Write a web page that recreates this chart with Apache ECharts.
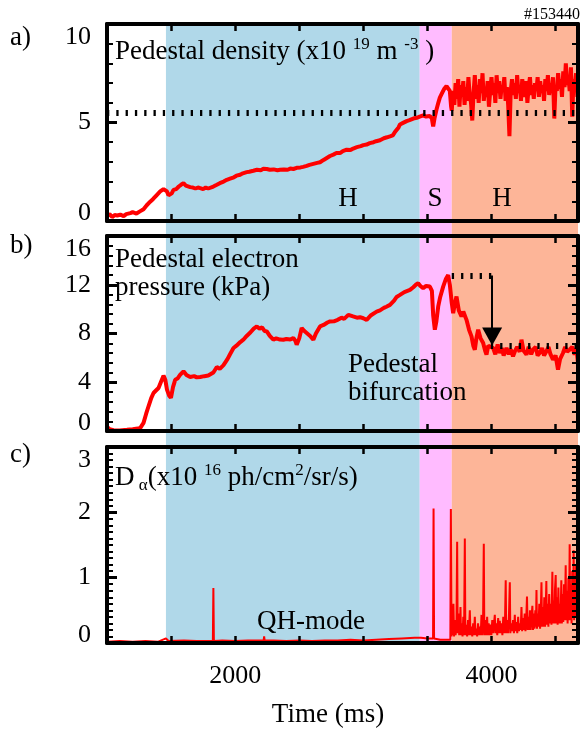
<!DOCTYPE html>
<html>
<head>
<meta charset="utf-8">
<script src="https://cdn.jsdelivr.net/npm/echarts@6/dist/echarts.min.js"></script>
<style>
  html, body { margin: 0; padding: 0; background: #fff; }
  #chart { width: 582px; height: 736px; }
</style>
</head>
<body>
<div id="chart"></div>
<script>
// time axis (ms)
const timeRange = [1000, 4675];
const timeStep = 500;
const timeLabels = [2000, 4000];

// phases: H, S, H
const phaseBands = [[1460, 3440], [3440, 3690], [3690, 4675]];
const phaseColors = ['#b0d8e9', '#ffbbff', '#fdb598'];

// a) pedestal density (x10^19 m^-3)
const densityData = [
  [1000, 0.25], [1020, 0.35], [1040, 0.2], [1060, 0.3], [1080, 0.28], [1104, 0.32], [1130, 0.25], [1150, 0.35],
  [1182, 0.4], [1200, 0.45], [1230, 0.38], [1260, 0.5], [1285, 0.6], [1310, 0.8], [1337, 0.98], [1360, 1.12],
  [1390, 1.33], [1415, 1.5], [1441, 1.62], [1455, 1.58], [1468, 1.5], [1480, 1.3], [1493, 1.22], [1505, 1.4],
  [1519, 1.58], [1540, 1.62], [1560, 1.75], [1580, 1.85], [1597, 1.92], [1615, 1.8], [1630, 1.78], [1649, 1.72],
  [1670, 1.7], [1690, 1.65], [1710, 1.7], [1727, 1.67], [1750, 1.62], [1770, 1.7], [1790, 1.65], [1805, 1.67],
  [1830, 1.75], [1857, 1.84], [1880, 1.92], [1910, 2.0], [1935, 2.09], [1960, 2.15], [1990, 2.22], [2010, 2.3],
  [2039, 2.35], [2060, 2.42], [2090, 2.48], [2110, 2.5], [2142, 2.55], [2170, 2.6], [2200, 2.58], [2220, 2.65],
  [2247, 2.64], [2270, 2.6], [2300, 2.62], [2330, 2.58], [2350, 2.6], [2380, 2.62], [2410, 2.6], [2430, 2.66],
  [2454, 2.64], [2480, 2.7], [2510, 2.72], [2530, 2.75], [2558, 2.8], [2580, 2.85], [2610, 2.9], [2640, 2.95],
  [2662, 2.98], [2690, 3.1], [2715, 3.2], [2740, 3.3], [2766, 3.37], [2790, 3.45], [2818, 3.45], [2840, 3.55],
  [2870, 3.62], [2900, 3.6], [2921, 3.68], [2950, 3.75], [2980, 3.8], [3000, 3.85], [3026, 3.88], [3050, 3.95],
  [3080, 4.0], [3100, 4.05], [3130, 4.1], [3160, 4.2], [3185, 4.25], [3208, 4.3], [3230, 4.35], [3245, 4.5],
  [3260, 4.56], [3275, 4.75], [3286, 4.9], [3310, 4.98], [3338, 5.07], [3360, 5.12], [3390, 5.2], [3416, 5.24],
  [3440, 5.3], [3467, 5.36], [3490, 5.3], [3519, 5.33], [3535, 5.2], [3545, 4.8], [3555, 5.2], [3571, 5.66],
  [3585, 6.0], [3597, 6.26], [3615, 6.5], [3630, 6.7], [3649, 6.85], [3662, 6.95], [3675, 6.6], [3685, 5.8],
  [3690, 5.6], [3700, 6.6], [3710, 5.9], [3720, 7.0], [3730, 6.2], [3740, 7.2], [3750, 5.8], [3760, 6.9],
  [3770, 6.3], [3780, 7.1], [3790, 5.9], [3800, 6.8], [3810, 6.1], [3820, 7.3], [3830, 6.4], [3840, 6.0],
  [3850, 5.1], [3860, 6.5], [3870, 7.4], [3880, 6.2], [3890, 6.9], [3900, 6.0], [3910, 7.2], [3920, 6.5],
  [3930, 7.5], [3940, 6.1], [3950, 6.8], [3960, 6.3], [3970, 7.1], [3980, 5.8], [3990, 6.6], [4000, 7.3],
  [4010, 6.4], [4020, 7.0], [4030, 6.0], [4040, 7.4], [4050, 6.5], [4060, 7.1], [4070, 6.2], [4080, 6.9],
  [4090, 6.6], [4100, 7.3], [4110, 6.1], [4120, 6.8], [4130, 5.9], [4140, 4.3], [4150, 6.6], [4160, 7.2],
  [4170, 6.4], [4180, 7.0], [4190, 6.2], [4200, 7.4], [4210, 6.5], [4220, 6.9], [4230, 6.1], [4240, 7.2],
  [4250, 6.7], [4260, 6.3], [4270, 7.1], [4280, 6.0], [4290, 6.8], [4300, 7.3], [4310, 6.4], [4320, 6.9],
  [4330, 6.2], [4340, 7.0], [4350, 6.6], [4360, 7.3], [4370, 6.3], [4380, 7.1], [4390, 6.5], [4400, 6.9],
  [4410, 6.1], [4420, 7.2], [4430, 6.6], [4440, 7.4], [4450, 6.4], [4460, 7.0], [4470, 6.5], [4480, 7.3],
  [4490, 5.2], [4500, 6.9], [4510, 6.6], [4520, 7.5], [4530, 6.7], [4540, 7.2], [4550, 6.3], [4560, 7.6],
  [4570, 6.8], [4580, 8.0], [4590, 6.9], [4600, 7.4], [4610, 6.6], [4620, 7.8], [4630, 5.3], [4640, 7.2],
  [4650, 6.8], [4660, 7.5], [4670, 6.3]
];
const densityRef = 5.5;

// b) pedestal electron pressure (kPa)
const pressureData = [
  [1000, 0.35], [1020, 0.15], [1051, 0.07], [1100, 0.05], [1156, 0.1], [1200, 0.15], [1240, 0.2], [1260, 0.26],
  [1285, 0.67], [1305, 1.4], [1324, 2.03], [1345, 2.7], [1363, 3.12], [1380, 3.3], [1402, 3.53], [1420, 4.0],
  [1441, 4.54], [1455, 4.2], [1468, 3.4], [1485, 2.9], [1499, 2.72], [1515, 3.6], [1532, 4.2], [1550, 4.3],
  [1570, 4.6], [1597, 4.9], [1620, 4.6], [1649, 4.43], [1680, 4.5], [1700, 4.4], [1727, 4.43], [1760, 4.5],
  [1790, 4.55], [1805, 4.62], [1830, 4.8], [1857, 5.25], [1880, 5.1], [1909, 5.4], [1940, 5.9], [1960, 6.3],
  [1987, 6.81], [2010, 7.0], [2040, 7.3], [2064, 7.49], [2090, 7.8], [2120, 8.1], [2145, 8.4], [2169, 8.58],
  [2190, 8.4], [2210, 8.5], [2230, 8.2], [2247, 8.17], [2270, 7.8], [2298, 7.49], [2320, 7.6], [2350, 7.5],
  [2376, 7.49], [2400, 7.55], [2430, 7.5], [2454, 7.63], [2470, 7.4], [2480, 7.08], [2500, 7.6], [2519, 8.45],
  [2540, 8.2], [2558, 8.04], [2585, 7.8], [2610, 7.49], [2630, 8.0], [2662, 8.58], [2690, 8.7], [2720, 8.9],
  [2740, 8.99], [2770, 9.0], [2800, 9.12], [2830, 9.3], [2850, 9.2], [2883, 9.53], [2896, 9.45], [2920, 9.4],
  [2950, 9.3], [2974, 9.34], [3000, 9.25], [3026, 9.12], [3060, 9.5], [3104, 9.8], [3130, 9.9], [3160, 10.1],
  [3180, 10.2], [3208, 10.35], [3240, 10.7], [3260, 11.0], [3286, 11.17], [3320, 11.4], [3364, 11.58], [3390, 11.8],
  [3410, 12.0], [3428, 12.13], [3445, 11.9], [3467, 11.72], [3490, 11.9], [3519, 11.85], [3535, 11.5], [3545, 9.5],
  [3558, 8.31], [3570, 9.0], [3584, 10.2], [3600, 11.0], [3623, 11.85], [3645, 12.5], [3662, 12.8], [3675, 12.0],
  [3690, 10.5], [3701, 9.67], [3715, 10.5], [3727, 11.03], [3745, 9.9], [3766, 9.39], [3780, 9.8], [3805, 9.12],
  [3825, 8.3], [3844, 7.76], [3858, 7.0], [3870, 6.67], [3882, 7.6], [3896, 8.31], [3915, 7.6], [3935, 7.22],
  [3950, 6.6], [3961, 6.26], [3975, 7.0], [3990, 6.9], [4013, 6.81], [4030, 6.3], [4048, 7.1], [4065, 6.4],
  [4080, 6.8], [4095, 6.2], [4117, 6.81], [4135, 6.3], [4150, 6.7], [4168, 6.12], [4185, 6.6], [4200, 6.9],
  [4220, 6.5], [4234, 7.49], [4250, 6.6], [4273, 6.26], [4290, 6.9], [4310, 6.3], [4324, 6.67], [4345, 6.9],
  [4360, 6.2], [4376, 6.4], [4395, 6.8], [4410, 6.2], [4428, 6.53], [4445, 6.9], [4460, 6.3], [4480, 5.85],
  [4500, 6.2], [4519, 5.03], [4535, 5.9], [4558, 6.4], [4575, 6.9], [4590, 6.5], [4610, 6.67], [4630, 6.9],
  [4649, 6.26], [4662, 6.8], [4675, 5.58]
];
const bifurcationHigh = 12.75;
const bifurcationLow = 7.0;
const bifurcationTimes = [3690, 4040];
const arrowTime = 4005;
const arrowEnd = 7.75;
const lowLineStart = 3995;

// c) D-alpha (x10^16 ph/cm^2/sr/s)
const dalphaData = [
  [1000, 0.02], [1100, 0.03], [1200, 0.02], [1300, 0.03], [1400, 0.02], [1460, 0.07], [1480, 0.03], [1600, 0.04],
  [1700, 0.03], [1826, 0.03], [1830, 0.84], [1834, 0.03], [1900, 0.04], [2000, 0.03], [2100, 0.04], [2222, 0.04],
  [2226, 0.1], [2230, 0.04], [2300, 0.04], [2400, 0.03], [2500, 0.04], [2600, 0.03], [2700, 0.04], [2800, 0.04],
  [2900, 0.05], [3000, 0.04], [3100, 0.05], [3200, 0.06], [3300, 0.07], [3400, 0.08], [3450, 0.08], [3500, 0.07],
  [3544, 0.07], [3548, 2.06], [3552, 0.07], [3600, 0.05], [3650, 0.05], [3679, 0.05], [3683, 2.05], [3688, 0.1],
  [3692, 0.3], [3697, 0.12], [3703, 0.6], [3708, 0.1], [3714, 0.35], [3720, 0.12], [3727, 0.3], [3732, 1.55],
  [3736, 0.15], [3742, 0.45], [3748, 0.12], [3754, 0.25], [3758, 0.55], [3762, 0.12], [3768, 0.3], [3774, 0.1],
  [3780, 0.4], [3786, 0.12], [3792, 1.6], [3796, 0.12], [3803, 0.28], [3810, 0.1], [3817, 0.35], [3823, 0.12],
  [3831, 0.5], [3836, 0.12], [3843, 0.25], [3850, 0.1], [3857, 0.3], [3863, 0.12], [3870, 0.4], [3875, 0.12],
  [3882, 0.22], [3888, 0.1], [3895, 0.3], [3902, 0.12], [3910, 0.25], [3916, 0.12], [3922, 0.43], [3927, 0.12],
  [3934, 0.3], [3940, 1.52], [3944, 0.12], [3950, 0.35], [3956, 0.12], [3962, 0.25], [3966, 0.4], [3971, 0.12],
  [3978, 0.3], [3985, 0.12], [3992, 0.28], [3999, 0.12], [4006, 0.35], [4013, 0.15], [4020, 0.3], [4026, 0.43],
  [4031, 0.15], [4038, 0.3], [4045, 0.12], [4052, 0.38], [4058, 0.15], [4065, 0.34], [4071, 0.15], [4078, 0.3],
  [4085, 0.12], [4092, 0.4], [4099, 0.15], [4105, 0.3], [4111, 0.96], [4115, 0.15], [4122, 0.35], [4129, 0.15],
  [4136, 0.4], [4143, 0.93], [4147, 0.15], [4154, 0.3], [4161, 0.18], [4168, 0.35], [4175, 0.15], [4182, 0.43],
  [4187, 0.18], [4194, 0.32], [4201, 0.15], [4208, 0.4], [4214, 0.18], [4221, 0.3], [4228, 0.2], [4234, 0.55],
  [4239, 0.18], [4246, 0.38], [4252, 0.2], [4259, 0.45], [4265, 0.18], [4271, 0.35], [4277, 0.71], [4282, 0.2],
  [4288, 0.4], [4294, 0.2], [4300, 0.5], [4306, 0.2], [4312, 0.38], [4319, 0.57], [4324, 0.2], [4330, 0.45],
  [4336, 0.22], [4342, 0.5], [4347, 0.25], [4351, 0.81], [4355, 0.22], [4361, 0.45], [4367, 0.25], [4373, 0.6],
  [4379, 0.22], [4385, 0.5], [4390, 0.93], [4394, 0.25], [4400, 0.55], [4406, 0.25], [4412, 0.7], [4418, 0.25],
  [4423, 0.5], [4428, 0.95], [4432, 0.28], [4438, 0.6], [4444, 0.25], [4450, 0.75], [4456, 0.3], [4462, 0.6],
  [4468, 0.28], [4475, 1.09], [4479, 0.3], [4485, 0.65], [4490, 0.3], [4495, 0.8], [4501, 1.04], [4505, 0.3],
  [4511, 0.7], [4516, 0.28], [4522, 0.85], [4527, 0.3], [4533, 0.6], [4538, 0.3], [4545, 0.96], [4549, 0.3],
  [4555, 0.75], [4560, 0.32], [4566, 0.9], [4572, 0.35], [4579, 1.19], [4583, 0.35], [4589, 0.8], [4594, 0.3],
  [4600, 1.0], [4605, 0.35], [4610, 1.51], [4614, 0.35], [4620, 0.9], [4625, 0.3], [4630, 1.1], [4636, 0.4],
  [4641, 1.42], [4645, 0.35], [4650, 1.0], [4655, 0.4], [4660, 1.2], [4664, 0.45], [4667, 1.28], [4672, 0.5]
];

// y axis ranges per panel: [min, max, interval, minor splits]
const yScales = [[0, 10, 5, 5], [0, 16, 4, 5], [0, 3, 1, 10]];

const FONT = 'Liberation Serif';

function frameLine() {
  return { show: true, onZero: false, lineStyle: { color: '#000', width: 4 } };
}

function xAxisFor(grid, pos, showLabels) {
  return {
    type: 'value', gridIndex: grid, position: pos,
    min: timeRange[0], max: timeRange[1], interval: timeStep, z: 4,
    axisLine: frameLine(),
    axisTick: { show: true, inside: true, length: 7, lineStyle: { color: '#000', width: 2.5 } },
    axisLabel: {
      show: showLabels, margin: 20, color: '#000', fontFamily: FONT, fontSize: 26,
      showMaxLabel: false,
      formatter: v => timeLabels.indexOf(v) >= 0 ? String(v) : ''
    },
    splitLine: { show: false }
  };
}

function yAxisFor(grid, pos, showLabels) {
  const [min, max, interval, minor] = yScales[grid];
  return {
    type: 'value', gridIndex: grid, position: pos,
    min: min, max: max, interval: interval, z: 4,
    axisLine: frameLine(),
    axisTick: { show: true, inside: true, length: 10, lineStyle: { color: '#000', width: 3 } },
    minorTick: { show: true, splitNumber: minor, length: 6, lineStyle: { color: '#000', width: 2 } },
    axisLabel: {
      show: showLabels, margin: 16, color: '#000', fontFamily: FONT, fontSize: 26,
      formatter: v => v === min ? '{lo|' + v + '}' : (v === max ? '{hi|' + v + '}' : String(v)),
      rich: {
        lo: { color: '#000', fontFamily: FONT, fontSize: 26, padding: [0, 0, 15, 0] },
        hi: { color: '#000', fontFamily: FONT, fontSize: 26, padding: [26, 0, 0, 0] }
      }
    },
    splitLine: { show: false }
  };
}

const dotted = { color: '#000', type: [2.3, 7], width: 6 };
const richTitle = {
  n: { fontFamily: FONT, fontSize: 27, lineHeight: 32, verticalAlign: 'middle', fill: '#000', color: '#000' },
  sup: { fontFamily: FONT, fontSize: 17, lineHeight: 17, verticalAlign: 'top', fill: '#000', color: '#000' },
  sub: { fontFamily: FONT, fontSize: 17, lineHeight: 17, verticalAlign: 'bottom', fill: '#000', color: '#000' }
};

function txt(x, y, text, opts) {
  const o = opts || {};
  return {
    type: 'text', z: 10, silent: true,
    style: {
      x: x, y: y, text: text, fill: '#000',
      font: (o.size || 27) + 'px "' + FONT + '"',
      align: o.align || 'left', textAlign: o.align || 'left',
      verticalAlign: 'middle', textVerticalAlign: 'middle',
      rich: o.rich
    }
  };
}

const chart = echarts.init(document.getElementById('chart'));

chart.setOption({
  animation: false,
  backgroundColor: '#fff',
  grid: [
    { left: 107, top: 24, width: 471, height: 197 },
    { left: 107, top: 236, width: 471, height: 195 },
    { left: 107, top: 447, width: 471, height: 196 },
    { left: 107, top: 24, width: 471, height: 619 }
  ],
  xAxis: [
    xAxisFor(0, 'bottom', false), xAxisFor(0, 'top', false),
    xAxisFor(1, 'bottom', false), xAxisFor(1, 'top', false),
    xAxisFor(2, 'bottom', true), xAxisFor(2, 'top', false),
    { type: 'value', gridIndex: 3, min: timeRange[0], max: timeRange[1], show: false }
  ],
  yAxis: [
    yAxisFor(0, 'left', true), yAxisFor(0, 'right', false),
    yAxisFor(1, 'left', true), yAxisFor(1, 'right', false),
    yAxisFor(2, 'left', true), yAxisFor(2, 'right', false),
    { type: 'value', gridIndex: 3, min: 0, max: 1, show: false }
  ],
  series: [
    {
      type: 'line', xAxisIndex: 6, yAxisIndex: 6, z: 1, silent: true,
      data: [], showSymbol: false,
      markArea: {
        silent: true,
        data: phaseBands.map((b, i) => [
          { xAxis: b[0], itemStyle: { color: phaseColors[i] } },
          { xAxis: b[1] }
        ])
      }
    },
    {
      type: 'line', xAxisIndex: 0, yAxisIndex: 0, z: 3, data: densityData,
      showSymbol: false, silent: true, lineStyle: { color: '#ff0000', width: 4 },
      markLine: {
        silent: true, symbol: 'none', label: { show: false }, lineStyle: dotted,
        data: [{ yAxis: densityRef }]
      }
    },
    {
      type: 'line', xAxisIndex: 2, yAxisIndex: 2, z: 3, data: pressureData,
      showSymbol: false, silent: true, lineStyle: { color: '#ff0000', width: 4 },
      markLine: {
        silent: true, symbol: 'none', label: { show: false }, lineStyle: dotted,
        data: [
          [{ coord: [bifurcationTimes[0], bifurcationHigh] }, { coord: [bifurcationTimes[1], bifurcationHigh] }],
          [{ coord: [lowLineStart, bifurcationLow] }, { coord: [timeRange[1], bifurcationLow] }],
          [
            { coord: [arrowTime, bifurcationHigh], symbol: 'none', lineStyle: { type: 'solid', width: 2, color: '#000' } },
            { coord: [arrowTime, arrowEnd], symbol: 'triangle', symbolSize: [20, 18], itemStyle: { color: '#000' } }
          ]
        ]
      }
    },
    {
      type: 'line', xAxisIndex: 4, yAxisIndex: 4, z: 3, data: dalphaData,
      showSymbol: false, silent: true, lineStyle: { color: '#ff0000', width: 2 }
    }
  ],
  graphic: [
    txt(580, 15, '#153440', { size: 16, align: 'right' }),
    txt(10, 38, 'a)'),
    txt(10, 246, 'b)'),
    txt(10, 455, 'c)'),
    txt(115, 52, '{n|Pedestal density (x10 }{sup|19}{n| m }{sup|-3}{n| )}', { rich: richTitle }),
    txt(348, 199, 'H', { align: 'center' }),
    txt(435, 199, 'S', { align: 'center' }),
    txt(502, 199, 'H', { align: 'center' }),
    txt(115, 260, 'Pedestal electron'),
    txt(115, 288, 'pressure (kPa)'),
    txt(348, 365, 'Pedestal'),
    txt(348, 393, 'bifurcation'),
    txt(115, 478, '{n|D}{sub| α}{n|(x10 }{sup|16}{n| ph/cm}{sup|2}{n|/sr/s)}', { rich: richTitle }),
    txt(257, 622, 'QH-mode'),
    txt(328, 715, 'Time (ms)', { align: 'center' })
  ]
});
</script>
</body>
</html>
